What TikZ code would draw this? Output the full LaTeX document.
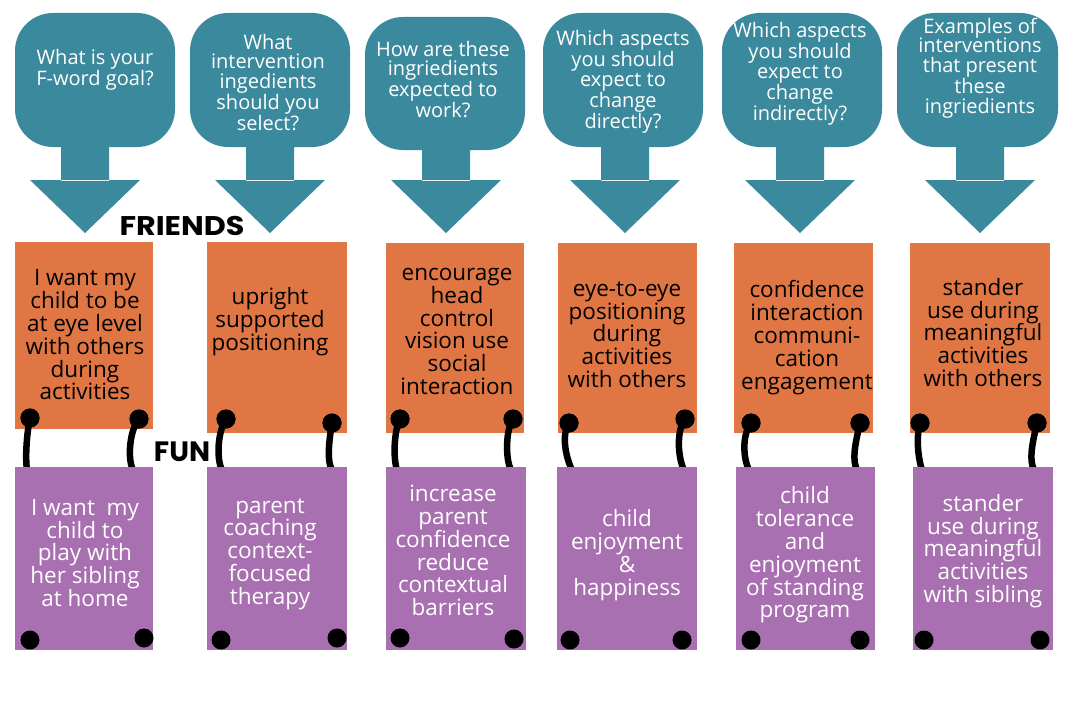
\documentclass[tikz,border=0pt]{standalone}
\usepackage{fontspec}
\setmainfont{Open Sans}
\newfontfamily\headfont{Poppins}
\definecolor{tealc}{HTML}{3B899D}
\definecolor{orangec}{HTML}{E07644}
\definecolor{purplec}{HTML}{A870B0}
\newcommand\qarrow[1]{\fill[tealc] ({#1-24},140) rectangle ({#1+24},181) ({#1-55},180) -- ({#1+55},180) -- (#1,233) -- cycle;}
\begin{document}
\begin{tikzpicture}[x=1pt,y=-1pt,
  bubble/.style={rectangle, fill=tealc, rounded corners=38pt, inner sep=0pt, minimum height=134pt},
  qtext/.style={text=white, align=center, inner sep=0pt, font=\fontsize{20}{19.7}\selectfont},
  obox/.style={rectangle, fill=orangec, inner sep=0pt, minimum height=190pt},
  pbox/.style={rectangle, fill=purplec, inner sep=0pt, minimum height=183pt},
  otext/.style={text=black, align=center, inner sep=0pt, font=\fontsize{22.5}{22.8}\selectfont},
  ptext/.style={text=white, align=center, inner sep=0pt, font=\fontsize{22.5}{22.8}\selectfont},
  dot/.style={circle, fill=black, inner sep=0pt, minimum size=19pt},
  conn/.style={draw=black, line width=6.5pt, line cap=round},
  label/.style={text=black, inner sep=0pt, font=\headfont\bfseries\fontsize{27}{27}\selectfont}
]
\fill[white] (0,0) rectangle (1082,701);
\useasboundingbox (0,0) rectangle (1082,701);

% question bubbles
\node[bubble, minimum width=160pt] (b1) at (95,80) {};
\node[bubble, minimum width=160pt] (b2) at (270,80) {};
\node[bubble, minimum width=160pt, minimum height=133pt] (b3) at (445,83.5) {};
\node[bubble, minimum width=160pt] (b4) at (623,80) {};
\node[bubble, minimum width=160pt] (b5) at (802,80) {};
\node[bubble, minimum width=161pt] (b6) at (977.5,80) {};
\qarrow{85}
\qarrow{270}
\qarrow{446}
\qarrow{625}
\qarrow{800}
\qarrow{980}

\node[qtext] (q1) at (95,69.5) {What is your\\F-word goal?};
\node[qtext] (q2) at (268,82.5) {What\\intervention\\ingedients\\should you\\select?};
\node[qtext] (q3) at (443,79.5) {How are these\\ingriedients\\expected to\\work?};
\node[qtext] (q4) at (623,82) {Which aspects\\you should\\expect to\\change\\directly?};
\node[qtext] (q5) at (800,74) {Which aspects\\you should\\expect to\\change\\indirectly?};
\node[qtext] (q6) at (980,68) {Examples of\\interventions\\that present\\these\\ingriedients};

% labels
\node[label, xscale=1.12] (friends) at (182,226) {FRIENDS};
\node[label, font=\headfont\bfseries\fontsize{28}{28}\selectfont] (fun) at (182,452) {FUN};

% orange boxes
\node[obox, minimum width=138pt, minimum height=187pt] (o1) at (84,335.5) {};
\node[obox, minimum width=140pt, minimum height=191pt] (o2) at (277,337.5) {};
\node[obox, minimum width=138pt] (o3) at (455,338) {};
\node[obox, minimum width=139pt] (o4) at (627.5,338) {};
\node[obox, minimum width=139pt] (o5) at (803.5,338) {};
\node[obox, minimum width=140pt] (o6) at (980,338) {};

% dots on orange boxes
\node[dot] (d1a) at (30,418) {};
\node[dot] (d1b) at (139,419) {};
\node[dot] (d2a) at (226,419) {};
\node[dot] (d2b) at (332,423) {};
\node[dot] (d3a) at (400,419) {};
\node[dot] (d3b) at (513,419) {};
\node[dot] (d4a) at (569,423) {};
\node[dot] (d4b) at (685,419) {};
\node[dot] (d5a) at (751,423) {};
\node[dot] (d5b) at (860,423) {};
\node[dot] (d6a) at (920,423) {};
\node[dot] (d6b) at (1037,423) {};

% connector ends on purple tops
\coordinate (e1a) at (27,470);
\coordinate (e1b) at (133,470);
\coordinate (e2a) at (222,470);
\coordinate (e2b) at (332,470);
\coordinate (e3a) at (397,470);
\coordinate (e3b) at (511,470);
\coordinate (e4a) at (572,470);
\coordinate (e4b) at (684,470);
\coordinate (e5a) at (749,470);
\coordinate (e5b) at (857,470);
\coordinate (e6a) at (922,470);
\coordinate (e6b) at (1034,470);

\draw[conn] (d1a.center) .. controls +(-3,14) and +(-2,-14) .. (e1a);
\draw[conn] (d1b.center) .. controls +(-9,10) and +(-6,-12) .. (e1b);
\draw[conn] (d2a.center) .. controls +(-8,12) and +(-6,-12) .. (e2a);
\draw[conn] (d2b.center) .. controls +(-2,12) and +(-6,-10) .. (e2b);
\draw[conn] (d3a.center) .. controls +(-6,12) and +(-4,-12) .. (e3a);
\draw[conn] (d3b.center) .. controls +(-7,10) and +(-6,-12) .. (e3b);
\draw[conn] (d4a.center) .. controls +(-8,12) and +(-6,-12) .. (e4a);
\draw[conn] (d4b.center) .. controls +(-9,12) and +(-6,-12) .. (e4b);
\draw[conn] (d5a.center) .. controls +(-9,12) and +(-6,-12) .. (e5a);
\draw[conn] (d5b.center) .. controls +(-3,14) and +(-6,-12) .. (e5b);
\draw[conn] (d6a.center) .. controls +(-4,14) and +(-4,-12) .. (e6a);
\draw[conn] (d6b.center) .. controls +(-3,14) and +(-6,-12) .. (e6b);

% redraw dots above connectors
\foreach \d in {d1a,d1b,d2a,d2b,d3a,d3b,d4a,d4b,d5a,d5b,d6a,d6b}{\fill[black] (\d) circle (9.5pt);}

% purple boxes
\node[pbox, minimum width=138pt] (p1) at (84,558.5) {};
\node[pbox, minimum width=140pt] (p2) at (277,558.5) {};
\node[pbox, minimum width=140pt] (p3) at (456,558.5) {};
\node[pbox, minimum width=140pt] (p4) at (627,558.5) {};
\node[pbox, minimum width=139pt] (p5) at (805.5,558.5) {};
\node[pbox, minimum width=140pt] (p6) at (983,558.5) {};

% dots on purple boxes
\node[dot] (f1a) at (30,640) {};
\node[dot] (f1b) at (144,638) {};
\node[dot] (f2a) at (221,640) {};
\node[dot] (f2b) at (337,638) {};
\node[dot] (f3a) at (400,638) {};
\node[dot] (f3b) at (514,639) {};
\node[dot] (f4a) at (570,640) {};
\node[dot] (f4b) at (682,640) {};
\node[dot] (f5a) at (751,640) {};
\node[dot] (f5b) at (860,640) {};
\node[dot] (f6a) at (924,640) {};
\node[dot] (f6b) at (1040,640) {};

% orange texts
\node[otext] (ot1) at (85,335) {I want my\\child to be\\at eye level\\with others\\during\\activities};
\node[otext] (ot2) at (270,321.5) {upright\\supported\\positioning};
\node[otext] (ot3) at (457,331.5) {encourage\\head\\control\\vision use\\social\\interaction};
\node[otext] (ot4) at (627,334.5) {eye-to-eye\\positioning\\during\\activities\\with others};
\node[otext] (ot5) at (807,337.5) {confidence\\interaction\\communi-\\cation\\engagement};
\node[otext] (ot6) at (983,332.5) {stander\\use during\\meaningful\\activities\\with others};

% purple texts
\node[ptext] (pt1) at (85,553) {I want\ \ my\\child to\\play with\\her sibling\\at home};
\node[ptext] (pt2) at (270,554) {parent\\coaching\\context-\\focused\\therapy};
\node[ptext] (pt3) at (453,550.5) {increase\\parent\\confidence\\reduce\\contextual\\barriers};
\node[ptext] (pt4) at (627,555) {child\\enjoyment\\\&\\happiness};
\node[ptext] (pt5) at (805,555) {child\\tolerance\\and\\enjoyment\\of standing\\program};
\node[ptext] (pt6) at (983,551) {stander\\use during\\meaningful\\activities\\with sibling};
\end{tikzpicture}
\end{document}
